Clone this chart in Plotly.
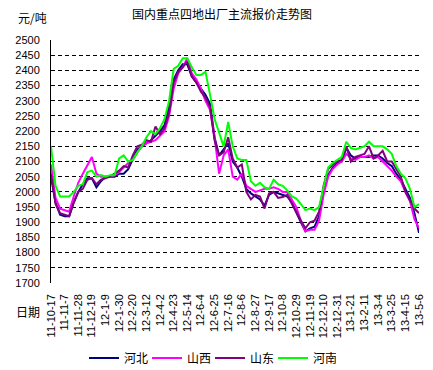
import pandas as pd
import plotly.graph_objects as go

# weekly dates (categories)
dates = pd.date_range("2011-10-17", periods=82, freq="7D")

hebei = [2050, 1965, 1925, 1920, 1920, 1965, 2000, 2025, 2045, 2045,
         2015, 2035, 2050, 2050, 2050, 2060, 2060, 2075, 2110, 2140,
         2150, 2160, 2170, 2185, 2200, 2220, 2280, 2370, 2400, 2420,
         2420, 2380, 2360, 2340, 2320, 2290, 2180, 2120, 2140, 2160,
         2100, 2080, 2050, 2010, 1995, 1985, 1975, 1955, 1990, 2000,
         1995, 1990, 1985, 1965, 1930, 1900, 1870, 1880, 1885, 1920,
         2000, 2055, 2080, 2095, 2100, 2145, 2120, 2110, 2115, 2115,
         2115, 2120, 2120, 2110, 2095, 2085, 2060, 2040, 2010, 1980,
         1930, 1865]
shanxi = [2090, 1980, 1945, 1940, 1935, 1985, 2030, 2060, 2090, 2115,
          2060, 2050, 2050, 2050, 2055, 2065, 2080, 2095, 2105, 2130,
          2150, 2160, 2165, 2170, 2185, 2200, 2250, 2340, 2390, 2410,
          2440, 2390, 2370, 2340, 2300, 2270, 2180, 2060, 2120, 2140,
          2050, 2040, 2060, 2020, 2010, 2000, 2005, 2010, 2010, 2015,
          2010, 2000, 2000, 1975, 1950, 1905, 1870, 1875, 1875, 1905,
          1990, 2050, 2075, 2090, 2100, 2125, 2110, 2105, 2115, 2115,
          2120, 2110, 2115, 2100, 2085, 2070, 2050, 2035, 2000, 1970,
          1910, 1880]
shandong = [2060, 1960, 1930, 1925, 1920, 1965, 2000, 2010, 2040, 2045,
            2025, 2040, 2045, 2050, 2060, 2070, 2085, 2080, 2120, 2150,
            2155, 2170, 2165, 2215, 2190, 2210, 2260, 2360, 2395, 2410,
            2430, 2380, 2360, 2330, 2310, 2280, 2170, 2120, 2130, 2180,
            2110, 2080, 2090, 2000, 1975, 1990, 1985, 1945, 1995, 2000,
            1980, 1983, 1990, 1960, 1930, 1905, 1880, 1900, 1905, 1935,
            2020, 2075, 2090, 2100, 2105, 2150, 2100, 2115, 2120, 2125,
            2150, 2110, 2120, 2135, 2100, 2100, 2075, 2050, 2000, 1970,
            1945, 1930]
henan = [2150, 2020, 1985, 1985, 1985, 2000, 2020, 2025, 2065, 2070,
         2050, 2055, 2050, 2055, 2055, 2110, 2120, 2100, 2105, 2130,
         2150, 2180, 2200, 2190, 2210, 2240, 2300, 2405, 2415, 2440,
         2440, 2410, 2385, 2385, 2395, 2320, 2240, 2195, 2150, 2230,
         2150, 2110, 2105, 2105, 2035, 2020, 2030, 2015, 2010, 2040,
         2025, 2020, 2005, 1985, 1978, 1960, 1940, 1945, 1940, 1950,
         2010, 2080, 2095, 2105, 2115, 2165, 2145, 2140, 2145, 2150,
         2165, 2150, 2150, 2150, 2140, 2125, 2085, 2060, 2045, 2010,
         1950, 1960]

tick_labels = ["11-10-17", "11-11-7", "11-11-28", "11-12-19", "12-1-9",
               "12-1-30", "12-2-20", "12-3-12", "12-4-2", "12-4-23",
               "12-5-14", "12-6-4", "12-6-25", "12-7-16", "12-8-6",
               "12-8-27", "12-9-17", "12-10-8", "12-10-29", "12-11-19",
               "12-12-10", "12-12-31", "13-1-21", "13-2-11", "13-3-4",
               "13-3-25", "13-4-15", "13-5-6"]
tick_dates = pd.date_range("2011-10-17", periods=len(tick_labels), freq="21D")

series = [("河北", hebei, "#000080"),
          ("山西", shanxi, "#FF00FF"),
          ("山东", shandong, "#800080"),
          ("河南", henan, "#00FF00")]

CJK = "Noto Sans CJK SC"

fig = go.Figure()
for name, vals, color in series:
    fig.add_trace(go.Scatter(x=dates, y=vals, name=name, mode="lines",
                             line=dict(color=color, width=2)))

fig.update_layout(
    width=433, height=370,
    margin=dict(l=51, r=14, t=40, b=87, autoexpand=False),
    paper_bgcolor="white", plot_bgcolor="white",
    title=dict(text="国内重点四地出厂主流报价走势图", x=222 / 433, xanchor="center",
               y=1 - 15 / 370, yanchor="middle", yref="container",
               font=dict(family=CJK, size=12, color="black")),
    showlegend=True,
    legend=dict(orientation="h", xref="container", yref="container",
                x=84 / 433, xanchor="left", y=1 - 358 / 370, yanchor="middle",
                font=dict(family=CJK, size=12, color="black"),
                entrywidth=18, entrywidthmode="pixels",
                bgcolor="rgba(0,0,0,0)"),
    xaxis=dict(type="date", range=[dates[0], dates[-1]],
               tickvals=list(tick_dates), ticktext=tick_labels, tickangle=-90,
               showgrid=False, showline=False, zeroline=False, ticks="",
               ticklabelstandoff=8,
               tickfont=dict(family="Liberation Sans", size=11, color="black")),
    yaxis=dict(range=[1700, 2500], tick0=1700, dtick=50, tickformat="d",
               showgrid=True, gridcolor="black", gridwidth=1, griddash="4px,3px",
               showline=True, linecolor="black", linewidth=1, zeroline=False,
               ticks="", ticklabelstandoff=8,
               tickfont=dict(family="Liberation Sans", size=11, color="black")),
    annotations=[
        dict(text="元/吨", xref="paper", yref="paper", x=(16 - 51) / 368, y=(283.3 - 17) / 243.3,
             xanchor="left", yanchor="middle", showarrow=False,
             font=dict(family=CJK, size=12, color="black")),
        dict(text="日期", xref="paper", yref="paper", x=(14 - 51) / 368, y=(283.3 - 312) / 243.3,
             xanchor="left", yanchor="middle", showarrow=False,
             font=dict(family=CJK, size=12, color="black")),
    ],
)

fig.write_html("out.html", config={"displayModeBar": False},
               post_script="document.body.style.margin='0px';")
